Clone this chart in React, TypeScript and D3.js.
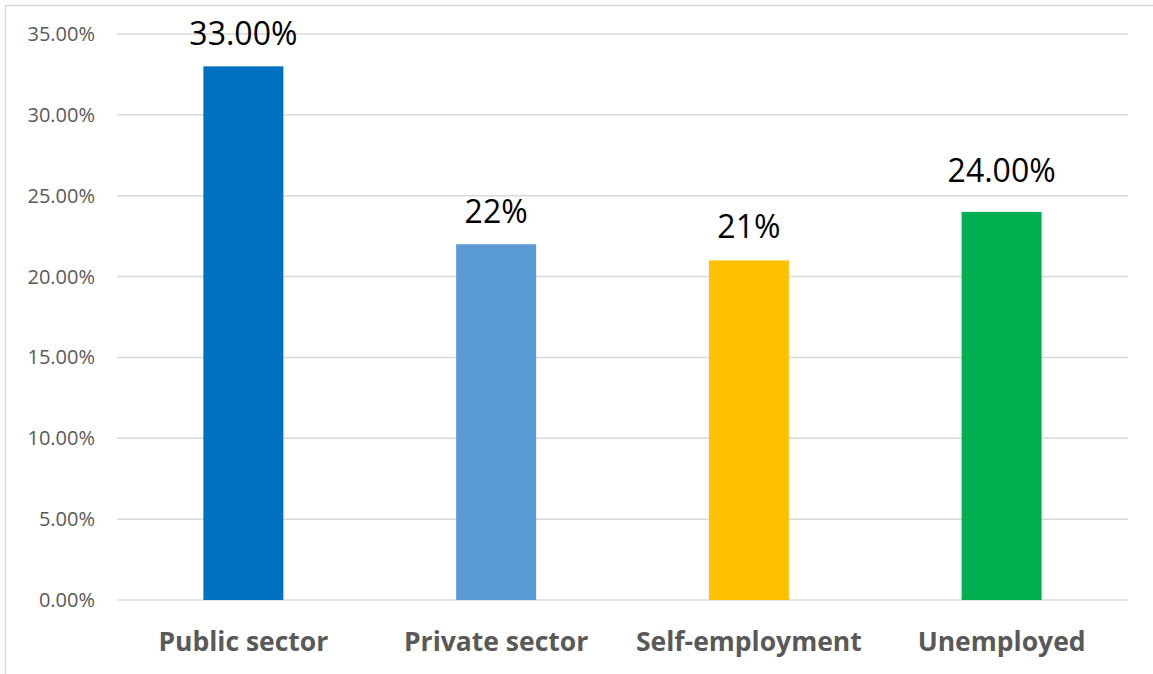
import React from "react";
import * as d3 from "d3";

const categories = ["Public sector", "Private sector", "Self-employment", "Unemployed"];
const values = [0.33, 0.22, 0.21, 0.24];
const valueLabels = ["33.00%", "22%", "21%", "24.00%"];
const colors = ["#0070C0", "#5B9BD5", "#FFC000", "#00B050"];
const yTicks = [0, 0.05, 0.1, 0.15, 0.2, 0.25, 0.3, 0.35];
// gap (px) between bar top and label baseline, as placed in the reference
const labelGaps = [21, 21, 22, 30];

const W = 1153;
const H = 674;
const FONT = "'Open Sans', 'Liberation Sans', sans-serif";

export default function App() {
  const x = d3.scaleBand<string>().domain(categories).range([117, 1128]).paddingInner(0).paddingOuter(0);
  const y = d3.scaleLinear().domain([0, 0.35]).range([600, 34]);
  const barW = 80;
  const fmt = d3.format(".2%");
  return (
    <svg width={W} height={H} style={{ position: "absolute", left: 0, top: 0, background: "#fff" }}>
      <rect x={0} y={0} width={W} height={H} fill="#fff" />
      <line x1={5.5} x2={5.5} y1={5} y2={H} stroke="#D9D9D9" strokeWidth={1.5} />
      <line x1={5} x2={W} y1={5.5} y2={5.5} stroke="#D9D9D9" strokeWidth={1.5} />
      {yTicks.map((t) => (
        <g key={t}>
          <line x1={117} x2={1128} y1={y(t)} y2={y(t)} stroke="#D9D9D9" strokeWidth={1.5} />
          <text x={95} y={y(t)} dy="0.35em" textAnchor="end" fontFamily={FONT} fontSize={20} fill="#595959">
            {fmt(t)}
          </text>
        </g>
      ))}
      {categories.map((c, i) => {
        const cx = (x(c) as number) + x.bandwidth() / 2;
        return (
          <g key={c}>
            <rect x={cx - barW / 2} y={y(values[i])} width={barW} height={y(0) - y(values[i])} fill={colors[i]} />
            <text x={cx} y={y(values[i]) - labelGaps[i]} textAnchor="middle" fontFamily={FONT} fontSize={32} fill="#000">
              {valueLabels[i]}
            </text>
            <text x={cx} y={651} textAnchor="middle" fontFamily={FONT} fontSize={26.5} fontWeight="bold" fill="#595959">
              {c}
            </text>
          </g>
        );
      })}
    </svg>
  );
}
